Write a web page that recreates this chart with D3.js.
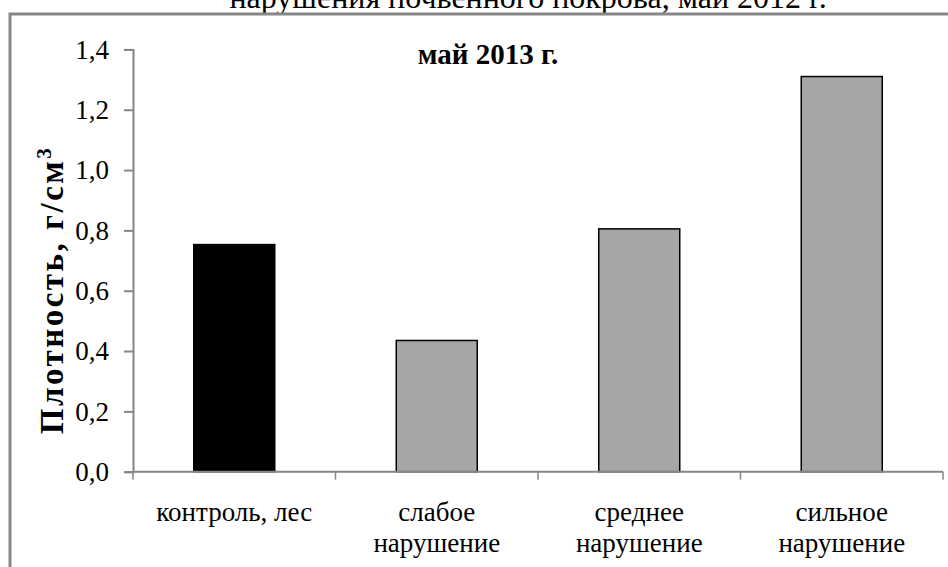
<!DOCTYPE html>
<html><head><meta charset="utf-8">
<script src="https://cdn.jsdelivr.net/npm/d3@7"></script>
<style>
html,body{margin:0;padding:0;background:#fff;}
svg{display:block;}
text{font-family:"Liberation Serif","Times New Roman",serif;}
</style></head>
<body>
<svg id="c" width="948" height="567"></svg>
<script>
const categories = [["контроль, лес"], ["слабое", "нарушение"], ["среднее", "нарушение"], ["сильное", "нарушение"]];
const values = [0.753, 0.435, 0.805, 1.31];
const fills = ["#000000", "#a6a6a6", "#a6a6a6", "#a6a6a6"];
const yTicks = [0, 0.2, 0.4, 0.6, 0.8, 1.0, 1.2, 1.4];
const chartTitle = "май 2013 г.";
const pageCaption = "нарушения почвенного покрова, май 2012 г.";

const svg = d3.select("#c");
const m = {left: 133, right: 943, top: 49.4, bottom: 471.7};

// caption above the frame (cut off at the top, as in the source)
svg.append("text").attr("x", 528).attr("y", 8).attr("text-anchor", "middle")
  .attr("font-size", 32).attr("fill", "#000").text(pageCaption);

// outer frame (extends beyond right/bottom)
svg.append("rect").attr("x", 10).attr("y", 14).attr("width", 960).attr("height", 600)
  .attr("fill", "#fff").attr("stroke", "#878787").attr("stroke-width", 3);

const x = d3.scaleBand().domain(d3.range(categories.length)).range([m.left, m.right]).paddingInner(0).paddingOuter(0);
const y = d3.scaleLinear().domain([0, 1.4]).range([m.bottom, m.top]);

const barW = x.bandwidth() * 0.4;

// bars
svg.append("g").selectAll("rect").data(values).join("rect")
  .attr("x", (d, i) => x(i) + (x.bandwidth() - barW) / 2)
  .attr("y", d => y(d))
  .attr("width", barW)
  .attr("height", d => y(0) - y(d))
  .attr("fill", (d, i) => fills[i])
  .attr("stroke", "#000").attr("stroke-width", 1.5);

// y axis
const yAxis = d3.axisLeft(y).tickValues(yTicks).tickSize(9).tickPadding(15)
  .tickFormat(d => d3.format(".1f")(d).replace(".", ","));
const gy = svg.append("g").attr("transform", `translate(${m.left},0)`).call(yAxis);
gy.select(".domain").attr("stroke", "#868686").attr("stroke-width", 2);
gy.selectAll(".tick line").attr("stroke", "#868686").attr("stroke-width", 2);
gy.selectAll(".tick text").attr("font-size", 27).attr("fill", "#000")
  .attr("font-family", '"Liberation Serif","Times New Roman",serif');

// x axis line and boundary ticks
const bounds = d3.range(categories.length + 1).map(i => i < categories.length ? x(i) : x(categories.length - 1) + x.bandwidth());
const gx = svg.append("g");
gx.append("line").attr("x1", m.left).attr("x2", m.right).attr("y1", y(0)).attr("y2", y(0))
  .attr("stroke", "#868686").attr("stroke-width", 2);
gx.selectAll("line.t").data(bounds).join("line").attr("class", "t")
  .attr("x1", d => d).attr("x2", d => d).attr("y1", y(0)).attr("y2", y(0) + 8)
  .attr("stroke", "#868686").attr("stroke-width", 1.5);

// category labels
const lab = svg.append("g").selectAll("text").data(categories).join("text")
  .attr("x", (d, i) => x(i) + x.bandwidth() / 2)
  .attr("y", 521)
  .attr("text-anchor", "middle").attr("font-size", 27).attr("fill", "#000");
lab.selectAll("tspan").data(d => d).join("tspan")
  .attr("x", function() { return d3.select(this.parentNode).attr("x"); })
  .attr("dy", (d, i) => i === 0 ? 0 : 31)
  .text(d => d);

// chart title
svg.append("text").attr("x", 488).attr("y", 64).attr("text-anchor", "middle")
  .attr("font-size", 29).attr("font-weight", "bold").attr("fill", "#000").text(chartTitle);

// y axis title
const yt = svg.append("text").attr("transform", "translate(63,290) rotate(-90)")
  .attr("text-anchor", "middle").attr("font-size", 33).attr("font-weight", "bold")
  .attr("letter-spacing", 2.5).attr("fill", "#000");
yt.append("tspan").text("Плотность, г/см");
yt.append("tspan").attr("dy", -12).attr("font-size", 21).text("3");
</script>
</body></html>
